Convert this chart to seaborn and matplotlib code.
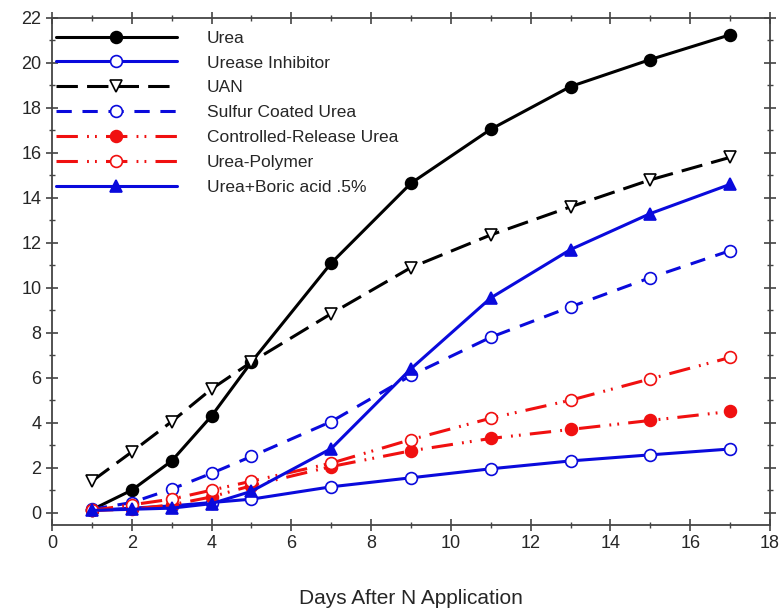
import numpy as np
import pandas as pd
import matplotlib
matplotlib.use("Agg")
import matplotlib.pyplot as plt
from matplotlib.ticker import MultipleLocator
import seaborn as sns

# data
days = [1, 2, 3, 4, 5, 7, 9, 11, 13, 15, 17]
urea = [0.13, 1.0, 2.3, 4.3, 6.7, 11.1, 14.65, 17.05, 18.95, 20.15, 21.25]
urease_inhibitor = [0.1, 0.2, 0.3, 0.45, 0.6, 1.15, 1.55, 1.95, 2.3, 2.57, 2.83]
uan = [1.4, 2.7, 4.05, 5.5, 6.7, 8.85, 10.9, 12.35, 13.6, 14.8, 15.8]
sulfur_coated = [0.15, 0.45, 1.05, 1.75, 2.5, 4.05, 6.1, 7.8, 9.15, 10.45, 11.65]
controlled_release = [0.1, 0.15, 0.35, 0.7, 1.2, 2.05, 2.75, 3.3, 3.7, 4.1, 4.5]
urea_polymer = [0.1, 0.35, 0.6, 1.0, 1.4, 2.2, 3.25, 4.2, 5.0, 5.95, 6.9]
boric = [0.1, 0.15, 0.2, 0.4, 0.95, 2.85, 6.4, 9.55, 11.7, 13.3, 14.6]

labels = ["Urea", "Urease Inhibitor", "UAN", "Sulfur Coated Urea",
          "Controlled-Release Urea", "Urea-Polymer", "Urea+Boric acid .5%"]
values = [urea, urease_inhibitor, uan, sulfur_coated,
          controlled_release, urea_polymer, boric]

df = pd.DataFrame({"day": days * len(labels),
                   "value": sum(values, []),
                   "series": np.repeat(labels, len(days))})

# styles: color, marker, face, linestyle
styles = {
    "Urea": ("black", "o", "black", "-"),
    "Urease Inhibitor": ("#0a0adc", "o", "white", "-"),
    "UAN": ("black", "v", "white", (0, (7, 3))),
    "Sulfur Coated Urea": ("#0a0adc", "o", "white", (0, (5, 3.5))),
    "Controlled-Release Urea": ("#f01010", "o", "#f01010", (0, (7, 3, 0.6, 2, 0.6, 3))),
    "Urea-Polymer": ("#f01010", "o", "white", (0, (7, 3, 0.6, 2, 0.6, 3))),
    "Urea+Boric acid .5%": ("#0a0adc", "^", "#0a0adc", "-"),
}

sns.set_style("ticks")
plt.rcParams['font.family'] = ['Liberation Sans', 'DejaVu Sans']

fig = plt.figure(figsize=(7.79, 6.08), dpi=100)
ax = fig.add_axes([0.0668, 0.1365, 0.9216, 0.834])

for name in labels:
    color, marker, face, ls = styles[name]
    sub = df[df["series"] == name]
    sns.lineplot(data=sub, x="day", y="value", ax=ax, color=color,
                 linestyle=ls, linewidth=2.2, marker=marker, markersize=8.5,
                 markerfacecolor=face, markeredgecolor=color,
                 markeredgewidth=1.2, label=name)

ax.set_xlim(0, 18)
ax.set_ylim(-0.55, 22)
ax.xaxis.set_major_locator(MultipleLocator(2))
ax.xaxis.set_minor_locator(MultipleLocator(1))
ax.yaxis.set_major_locator(MultipleLocator(2))
ax.yaxis.set_minor_locator(MultipleLocator(1))
ax.tick_params(which='both', direction='inout', top=True, right=True,
               color='#444444', labelsize=13)
ax.tick_params(which='major', length=8, width=1.2)
ax.tick_params(which='minor', length=5, width=1.0)
for sp in ax.spines.values():
    sp.set_color('#444444')
    sp.set_linewidth(1.3)

ax.set_xlabel("Days After N Application", fontsize=15, labelpad=26)
ax.set_ylabel("")

ax.legend(loc='upper left', bbox_to_anchor=(0, 0.982), frameon=False,
          fontsize=12.5, handlelength=7.0, handletextpad=1.7,
          labelspacing=0.56, borderaxespad=0, borderpad=0.2)

fig.savefig("out.png", dpi=100)
